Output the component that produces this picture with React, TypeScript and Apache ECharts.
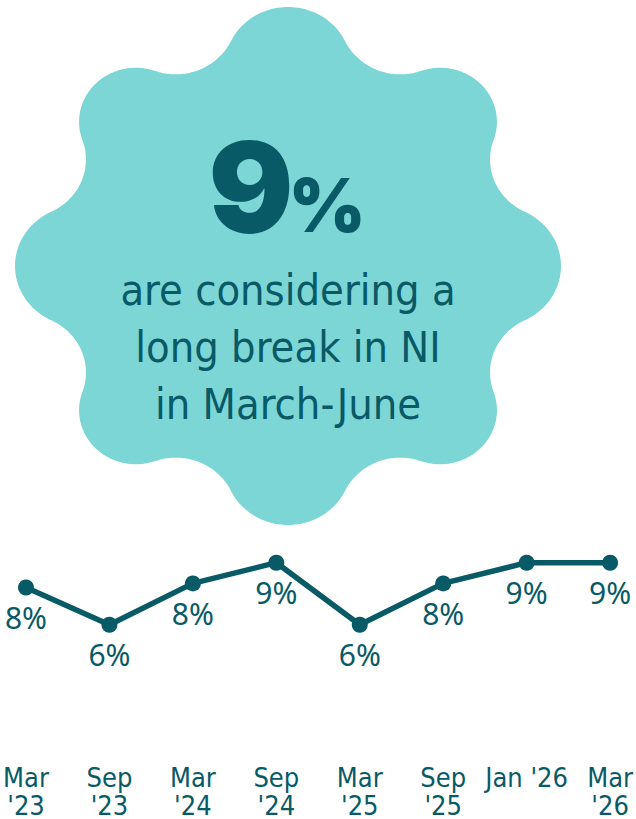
import React, { useEffect, useRef } from "react";
import * as echarts from "echarts";

const categories = ["Mar\n'23", "Sep\n'23", "Mar\n'24", "Sep\n'24", "Mar\n'25", "Sep\n'25", "Jan '26", "Mar\n'26"];
const values = [7.8, 6, 8, 9, 6, 8, 9, 9];
const headlineValue = "9";
const headlineUnit = "%";
const headlineText = ["are considering a", "long break in NI", "in March-June"];

const DARK = "#085a66";
const BLOB = "#7dd6d6";
const NARROW = "'Liberation Sans Narrow', 'DejaVu Sans Condensed', 'Noto Sans', sans-serif";

// scalloped badge: 8 lobe circles (cardinal / diagonal) joined by concave fillet arcs
function blobPoints(cx: number, cy: number) {
  const n = 8;
  const sx = 1.054;
  const rf = 58;
  const lobes = Array.from({ length: n }, (_, i) => {
    const a = (Math.PI * 2 * i) / n;
    const D = i % 2 === 0 ? 199 : 204;
    const r = i % 2 === 0 ? 60 : 54;
    return { c: [D * Math.cos(a), D * Math.sin(a)], r };
  });
  const fillet = (i: number) => {
    const A = lobes[((i % n) + n) % n];
    const B = lobes[(((i + 1) % n) + n) % n];
    const r0 = A.r + rf, r1 = B.r + rf;
    const dx = B.c[0] - A.c[0], dy = B.c[1] - A.c[1];
    const d = Math.hypot(dx, dy);
    const a = (r0 * r0 - r1 * r1 + d * d) / (2 * d);
    const h = Math.sqrt(Math.max(0, r0 * r0 - a * a));
    const px = A.c[0] + (a * dx) / d, py = A.c[1] + (a * dy) / d;
    const s1 = [px - (h * dy) / d, py + (h * dx) / d];
    const s2 = [px + (h * dy) / d, py - (h * dx) / d];
    return Math.hypot(s1[0], s1[1]) > Math.hypot(s2[0], s2[1]) ? s1 : s2;
  };
  const out: number[][] = [];
  const push = (x: number, y: number) => out.push([cx + sx * x, cy - y]);
  const steps = 60;
  for (let i = 0; i < n; i++) {
    const L = lobes[i];
    const c = L.c;
    const cn = lobes[(i + 1) % n].c;
    const fp = fillet(i - 1), fn = fillet(i);
    const a0 = Math.atan2(fp[1] - c[1], fp[0] - c[0]);
    let a1 = Math.atan2(fn[1] - c[1], fn[0] - c[0]);
    while (a1 <= a0) a1 += 2 * Math.PI;
    for (let k = 0; k <= steps; k++) {
      const a = a0 + ((a1 - a0) * k) / steps;
      push(c[0] + L.r * Math.cos(a), c[1] + L.r * Math.sin(a));
    }
    const b0 = Math.atan2(c[1] - fn[1], c[0] - fn[0]);
    let b1 = Math.atan2(cn[1] - fn[1], cn[0] - fn[0]);
    while (b1 >= b0) b1 -= 2 * Math.PI;
    for (let k = 1; k < steps; k++) {
      const a = b0 + ((b1 - b0) * k) / steps;
      push(fn[0] + rf * Math.cos(a), fn[1] + rf * Math.sin(a));
    }
  }
  return out;
}

export default function App() {
  const ref = useRef<HTMLDivElement>(null);
  useEffect(() => {
    document.body.style.margin = "0";
    const chart = echarts.init(ref.current!, undefined, { renderer: "svg" });
    chart.setOption({
      animation: false,
      grid: { left: 26, right: 23, top: 542, bottom: 70 },
      xAxis: {
        type: "category",
        data: categories,
        boundaryGap: false,
        axisLine: { show: false },
        axisTick: { show: false },
        axisLabel: {
          color: DARK,
          fontSize: 27,
          lineHeight: 28,
          fontFamily: NARROW,
          margin: 14,
          interval: 0,
        },
      },
      yAxis: { type: "value", min: 0, max: 10, show: false, splitLine: { show: false } },
      graphic: [
        { type: "polygon", shape: { points: blobPoints(288, 266) }, style: { fill: BLOB } },
        {
          type: "text",
          x: 251,
          y: 187,
          style: {
            text: headlineValue,
            fontSize: 126,
            fontWeight: 900,
            fontFamily: "Inter, 'DejaVu Sans', sans-serif",
            fill: DARK,
            align: "center",
            verticalAlign: "middle",
          },
        },
        {
          type: "text",
          x: 327,
          y: 205,
          style: {
            text: headlineUnit,
            fontSize: 74,
            fontWeight: 900,
            fontFamily: "Inter, 'DejaVu Sans', sans-serif",
            fill: DARK,
            align: "center",
            verticalAlign: "middle",
          },
        },
        {
          type: "text",
          x: 288,
          y: 347,
          style: {
            text: headlineText.join("\n"),
            fontSize: 43,
            lineHeight: 57,
            fontFamily: NARROW,
            fill: DARK,
            align: "center",
            verticalAlign: "middle",
          },
        },
      ],
      series: [
        {
          type: "line",
          data: values,
          symbol: "circle",
          symbolSize: 16,
          lineStyle: { color: DARK, width: 5.5 },
          itemStyle: { color: DARK },
          label: {
            show: true,
            position: "bottom",
            distance: 7,
            color: DARK,
            fontSize: 30,
            fontFamily: "'Noto Sans', sans-serif",
            formatter: (p: any) => Math.round(p.value) + "%",
          },
        },
      ],
    });
    return () => chart.dispose();
  }, []);
  return <div ref={ref} style={{ width: 636, height: 819 }} />;
}
